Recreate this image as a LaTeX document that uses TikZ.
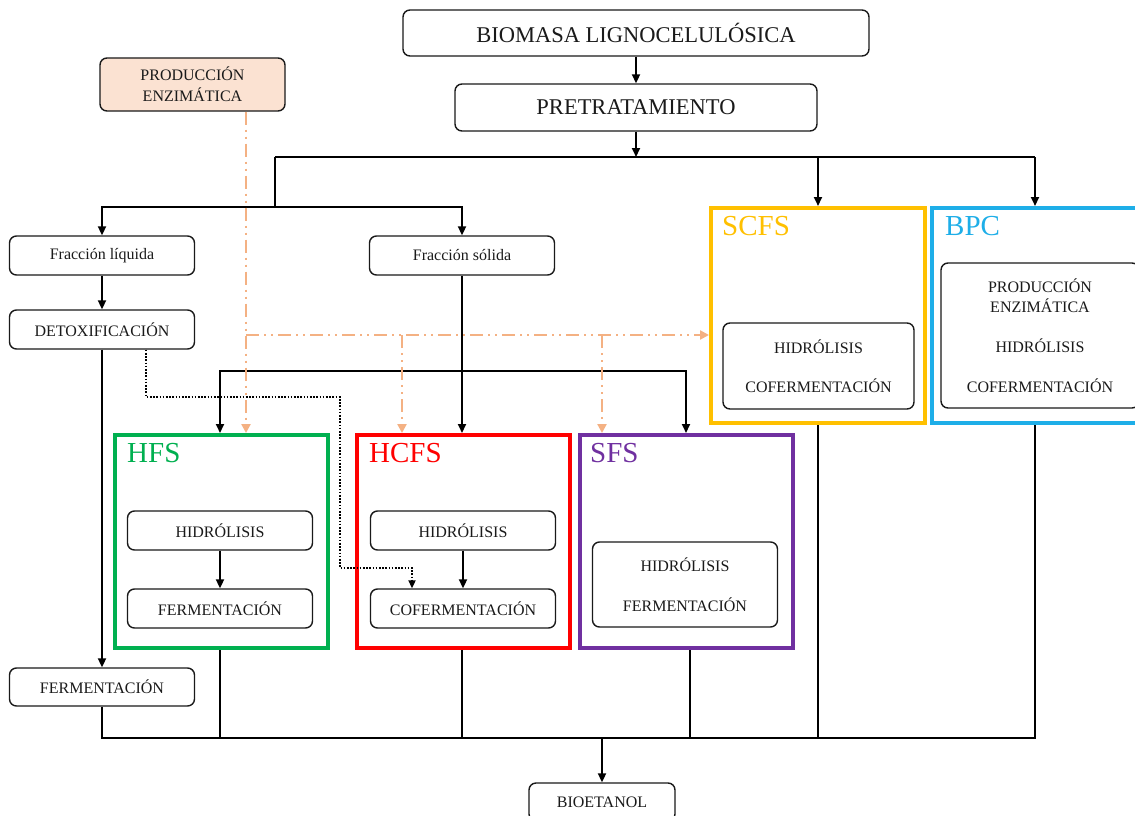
\documentclass[tikz,border=0pt]{standalone}
\usepackage{fontspec}
\setmainfont{Liberation Serif}
\usetikzlibrary{arrows.meta}
\definecolor{cgreen}{HTML}{00B050}
\definecolor{cred}{HTML}{FF0000}
\definecolor{cpurple}{HTML}{7030A0}
\definecolor{cyellow}{HTML}{FFC000}
\definecolor{cblue}{HTML}{1EAEE8}
\definecolor{cpeach}{HTML}{FBE2D2}
\definecolor{corange}{HTML}{F4B183}
\definecolor{ink}{HTML}{1A1A1A}
\begin{document}
\begin{tikzpicture}[x=1pt,y=-1pt,
  pbox/.style={draw=ink, line width=1.4pt, rounded corners=7pt, fill=white,
    inner sep=0pt, align=center, text=ink},
  txtsmall/.style={font=\fontsize{16}{20}\selectfont},
  txtbig/.style={font=\fontsize{22.5}{27}\selectfont},
  procframe/.style={draw=#1, line width=4pt, inner sep=0pt},
  proclabel/.style={text=#1, anchor=base west, inner sep=0pt,
    font=\fontsize{29}{34}\selectfont},
  conn/.style={line width=2pt, draw=black},
  arr/.style={conn, -{Triangle[length=9pt,width=8pt]}},
  enzarr/.style={line width=2.4pt, draw=corange,
    dash pattern=on 13pt off 5pt on 2pt off 5pt on 2pt off 5pt,
    -{Triangle[length=9pt,width=9pt,fill=corange]}},
  detarr/.style={line width=2.2pt, draw=black, dash pattern=on 1.6pt off 1.6pt,
    -{Triangle[length=8pt,width=7pt]}}
]
\clip (0,0) rectangle (1135,816);
\fill[white] (0,0) rectangle (1135,816);

% main chain
\node[pbox, txtbig, minimum width=466pt, minimum height=46pt] (bio) at (636,33) {BIOMASA LIGNOCELULÓSICA};
\node[pbox, txtbig, minimum width=362pt, minimum height=47pt] (pre) at (636,107.5) {PRETRATAMIENTO};
\node[pbox, fill=cpeach, font=\fontsize{16}{21}\selectfont, minimum width=185pt, minimum height=53pt] (enz) at (192.5,84.5) {PRODUCCIÓN\\ENZIMÁTICA};

% fractions
\node[pbox, txtsmall, minimum width=185pt, minimum height=39pt] (fliq) at (102,255.5) {Fracción líquida};
\node[pbox, txtsmall, minimum width=185pt, minimum height=39pt] (fsol) at (462,255.5) {Fracción sólida};
\node[pbox, txtsmall, minimum width=185pt, minimum height=39pt] (detox) at (102,329.5) {DETOXIFICACIÓN};
\node[pbox, txtsmall, minimum width=185pt, minimum height=38pt] (fermL) at (102,687) {FERMENTACIÓN};
\node[pbox, txtsmall, minimum width=146pt, minimum height=38pt] (etoh) at (602,802) {BIOETANOL};

% process frames
\node[procframe=cgreen, minimum width=213pt, minimum height=213pt] (hfs) at (221.5,541.5) {};
\node[procframe=cred, minimum width=213pt, minimum height=213pt] (hcfs) at (463.5,541.5) {};
\node[procframe=cpurple, minimum width=213pt, minimum height=213pt] (sfs) at (686,541.5) {};
\node[procframe=cyellow, minimum width=214pt, minimum height=215pt] (scfs) at (818,315.5) {};
\node[procframe=cblue, minimum width=220pt, minimum height=215pt] (bpc) at (1042,315.5) {};

\node[proclabel=cgreen] (lhfs) at (127,462) {HFS};
\node[proclabel=cred] (lhcfs) at (369,462) {HCFS};
\node[proclabel=cpurple] (lsfs) at (590,462) {SFS};
\node[proclabel=cyellow] (lscfs) at (722,235) {SCFS};
\node[proclabel=cblue] (lbpc) at (945,235) {BPC};

% steps inside the frames
\node[pbox, txtsmall, minimum width=185pt, minimum height=39pt] (hfsH) at (220,530.5) {HIDRÓLISIS};
\node[pbox, txtsmall, minimum width=185pt, minimum height=39pt] (hfsF) at (220,608.5) {FERMENTACIÓN};
\node[pbox, txtsmall, minimum width=185pt, minimum height=39pt] (hcfsH) at (463,530.5) {HIDRÓLISIS};
\node[pbox, txtsmall, minimum width=185pt, minimum height=39pt] (hcfsC) at (463,608.5) {COFERMENTACIÓN};
\node[pbox, font=\fontsize{16}{40}\selectfont, minimum width=185pt, minimum height=85pt] (sfsIn) at (685,584.5) {HIDRÓLISIS\\FERMENTACIÓN};
\node[pbox, font=\fontsize{16}{39}\selectfont, minimum width=191pt, minimum height=86pt] (scfsIn) at (818.5,366) {HIDRÓLISIS\\COFERMENTACIÓN};
\node[pbox, font=\fontsize{16}{20}\selectfont, minimum width=198pt, minimum height=145pt] (bpcIn) at (1040,335.5) {PRODUCCIÓN\\ENZIMÁTICA\\[20pt]HIDRÓLISIS\\[20pt]COFERMENTACIÓN};

% junction points
\coordinate (busT) at (636,157);
\coordinate (tL) at (275,157);
\coordinate (tR) at (1035,157);
\coordinate (sp) at (275,207);
\coordinate (m1) at (220,371);
\coordinate (m2) at (686,371);
\coordinate (o1) at (246,335);
\coordinate (o2) at (402,335);
\coordinate (o3) at (602,335);
\coordinate (d1) at (146,397);
\coordinate (d2) at (340,397);
\coordinate (d3) at (340,568);
\coordinate (d4) at (412,568);
\coordinate (bL) at (102,738);
\coordinate (bR) at (1035,738);
\coordinate (bM) at (602,738);
\coordinate (hb) at (220,738);
\coordinate (hcb) at (462,738);
\coordinate (sb) at (690,738);
\coordinate (scb) at (818,738);

% upper connectors
\draw[arr] (bio.south) -- (pre.north);
\draw[arr] (pre.south) -- (busT);
\draw[conn] (tL) -- (tR);
\draw[conn] (tL) -- (sp);
\draw[arr] (sp) -| (fliq.north);
\draw[arr] (sp) -| (fsol.north);
\draw[arr] (scfs.north |- tR) -- (scfs.north);
\draw[arr] (tR) -- (tR |- bpc.north);
\draw[arr] (fliq.south) -- (detox.north);
\draw[arr] (detox.south) -- (fermL.north);
\draw[arr] (fsol.south) -- (fsol.south |- hcfs.north);
\draw[conn, {Triangle[length=9pt,width=8pt]}-{Triangle[length=9pt,width=8pt]}]
  (m1 |- hfs.north) -- (m1) -- (m2) -- (m2 |- sfs.north);

% enzyme supply
\draw[enzarr] (enz.south -| o1) -- (o1 |- hfs.north);
\draw[enzarr] (o1) -- (o1 -| scfs.west);
\draw[enzarr] (o2) -- (o2 |- hcfs.north);
\draw[enzarr] (o3) -- (o3 |- sfs.north);

% detoxified liquor to co-fermentation
\draw[detarr] (detox.south -| d1) -- (d1) -- (d2) -- (d3) -- (d4) -- (d4 |- hcfsC.north);

% steps inside frames
\draw[arr] (hfsH.south) -- (hfsF.north);
\draw[arr] (hcfsH.south) -- (hcfsC.north);

% collection to bioethanol
\draw[conn] (fermL.south) -- (bL) -- (bR) -- (bR |- bpc.south);
\draw[conn] (hb |- hfs.south) -- (hb);
\draw[conn] (hcb |- hcfs.south) -- (hcb);
\draw[conn] (sb |- sfs.south) -- (sb);
\draw[conn] (scb |- scfs.south) -- (scb);
\draw[arr] (bM) -- (etoh.north);
\end{tikzpicture}
\end{document}
